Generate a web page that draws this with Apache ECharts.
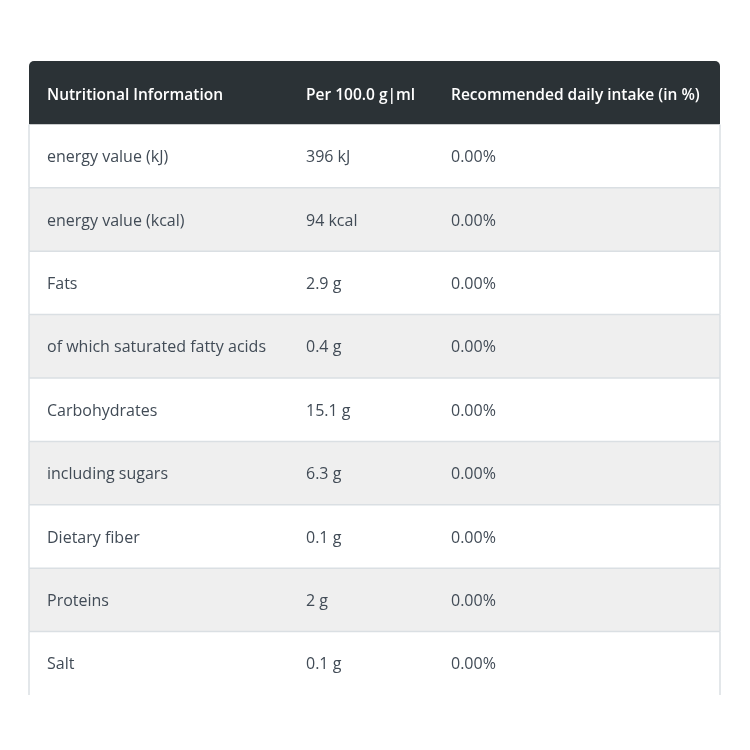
<!DOCTYPE html>
<html>
<head>
<meta charset="utf-8">
<script src="https://cdn.jsdelivr.net/npm/echarts@6/dist/echarts.min.js"></script>
<style>html,body{margin:0;padding:0;background:#fff;}#c{width:750px;height:750px;}</style>
</head>
<body>
<div id="c"></div>
<script>
const headers = ['Nutritional Information', 'Per 100.0 g|ml', 'Recommended daily intake (in %)'];
const nutrients = ['energy value (kJ)', 'energy value (kcal)', 'Fats', 'of which saturated fatty acids', 'Carbohydrates', 'including sugars', 'Dietary fiber', 'Proteins', 'Salt'];
const amounts = ['396 kJ', '94 kcal', '2.9 g', '0.4 g', '15.1 g', '6.3 g', '0.1 g', '2 g', '0.1 g'];
const dailyIntake = ['0.00%', '0.00%', '0.00%', '0.00%', '0.00%', '0.00%', '0.00%', '0.00%', '0.00%'];

const rowNames = ['header'].concat(nutrients);
const colOffsets = [18, 277, 422];
const FONT = '"Open Sans", Lato, sans-serif';

const chart = echarts.init(document.getElementById('c'));

function renderItem(params, api) {
  const idx = api.value(0);
  const cs = params.coordSys;
  const cy = api.coord([0, idx])[1];
  const h = api.size([0, 1])[1];
  const top = cy - h / 2;
  const x0 = cs.x, w = cs.width;
  const children = [];
  if (idx === 0) {
    children.push({
      type: 'rect',
      shape: { x: x0, y: top, width: w, height: h, r: [5, 5, 0, 0] },
      style: { fill: '#2b3236' }
    });
    headers.forEach(function (t, i) {
      children.push({
        type: 'text',
        style: {
          x: x0 + colOffsets[i], y: cy + 2.5, text: t,
          fill: '#ffffff', font: '600 15.5px ' + FONT,
          verticalAlign: 'middle', align: 'left'
        }
      });
    });
  } else {
    const r = idx - 1;
    children.push({
      type: 'rect',
      shape: { x: x0, y: top, width: w, height: h },
      style: { fill: r % 2 === 1 ? '#efefef' : '#ffffff' }
    });
    if (r > 0) {
      children.push({
        type: 'line',
        shape: { x1: x0, y1: top, x2: x0 + w, y2: top },
        style: { stroke: '#dadfe3', lineWidth: 1.5 }
      });
    }
    children.push({
      type: 'line',
      shape: { x1: x0, y1: top, x2: x0, y2: top + h },
      style: { stroke: '#dadfe3', lineWidth: 1.5 }
    });
    children.push({
      type: 'line',
      shape: { x1: x0 + w, y1: top, x2: x0 + w, y2: top + h },
      style: { stroke: '#dadfe3', lineWidth: 1.5 }
    });
    [nutrients[r], amounts[r], dailyIntake[r]].forEach(function (t, i) {
      children.push({
        type: 'text',
        style: {
          x: x0 + colOffsets[i], y: cy + 1.5, text: t,
          fill: '#414b56', font: '16px ' + FONT,
          verticalAlign: 'middle', align: 'left'
        }
      });
    });
  }
  return { type: 'group', children: children };
}

chart.setOption({
  animation: false,
  backgroundColor: '#ffffff',
  grid: { left: 29, right: 30, top: 61, bottom: 55 },
  xAxis: { type: 'value', min: 0, max: 1, show: false },
  yAxis: { type: 'category', data: rowNames, inverse: true, show: false },
  series: [{
    type: 'custom',
    renderItem: renderItem,
    clip: false,
    data: rowNames.map(function (n, i) { return [i, 0]; }),
    encode: { y: 0, x: 1 }
  }]
});
</script>
</body>
</html>
